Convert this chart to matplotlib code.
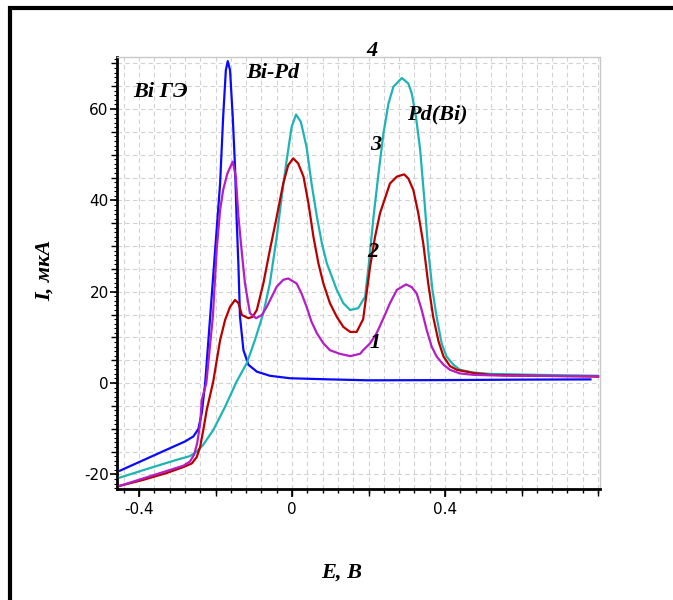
"""Stripping voltammograms on a Bi film electrode with Pd (curves 1-4)."""

import matplotlib
matplotlib.use("Agg")
import matplotlib.pyplot as plt
from matplotlib.lines import Line2D
from matplotlib.ticker import MultipleLocator, FixedLocator

# Bi film electrode (blue)
bi_x = [-0.45, -0.397, -0.328, -0.28, -0.258, -0.245, -0.236, -0.227, -0.214,
        -0.201, -0.188, -0.18, -0.173, -0.168, -0.162, -0.155, -0.149, -0.145,
        -0.14, -0.136, -0.127, -0.114, -0.092, -0.058, -0.005, 0.1, 0.2, 0.4,
        0.6, 0.78]
bi_y = [-19.2, -17.2, -14.6, -12.8, -11.7, -10.1, -6.6, 0.0, 14.5,
        29.1, 43.7, 58.3, 68.5, 70.5, 68.5, 58.3, 47.4, 36.4,
        25.5, 14.5, 7.2, 4.0, 2.5, 1.6, 1.05, 0.8, 0.6, 0.65,
        0.75, 0.8]

# curve 1 (magenta)
c1_x = [-0.45, -0.284, -0.267, -0.256, -0.248, -0.24, -0.236, -0.224, -0.207,
        -0.197, -0.188, -0.18, -0.169, -0.155, -0.147, -0.14, -0.131, -0.123,
        -0.11, -0.094, -0.079, -0.066, -0.04, -0.023, -0.01, 0.012, 0.025,
        0.038, 0.051, 0.065, 0.082, 0.099, 0.125, 0.152, 0.178, 0.186, 0.204,
        0.221, 0.239, 0.256, 0.274, 0.298, 0.313, 0.326, 0.339, 0.352, 0.365,
        0.378, 0.396, 0.413, 0.439, 0.474, 0.561, 0.8]
c1_y = [-22.5, -18.1, -17.2, -15.7, -13.2, -8.8, -3.7, 0.0, 14.5,
        29.1, 37.9, 42.3, 45.9, 48.5, 45.2, 36.4, 28.4, 21.8,
        15.3, 14.2, 14.9, 16.7, 21.1, 22.6, 22.9, 21.8, 19.6,
        16.7, 13.4, 10.9, 8.7, 7.2, 6.4, 5.9, 6.4, 7.2, 8.7,
        10.9, 14.2, 17.5, 20.4, 21.6, 21.0, 19.6, 16.0, 11.6, 8.0,
        5.8, 4.0, 2.9, 2.1, 1.8, 1.6, 1.5]

# curve 2 (dark red)
c2_x = [-0.45, -0.389, -0.328, -0.284, -0.262, -0.249, -0.24, -0.232, -0.223,
        -0.206, -0.188, -0.175, -0.162, -0.149, -0.14, -0.131, -0.114, -0.103,
        -0.092, -0.075, -0.058, -0.04, -0.023, -0.01, 0.003, 0.016, 0.03,
        0.043, 0.056, 0.069, 0.082, 0.099, 0.117, 0.134, 0.152, 0.169, 0.186,
        0.204, 0.217, 0.23, 0.256, 0.274, 0.293, 0.304, 0.317, 0.33, 0.343,
        0.356, 0.369, 0.383, 0.396, 0.413, 0.431, 0.474, 0.518, 0.64, 0.8]
c2_y = [-22.5, -21.2, -19.7, -18.4, -17.6, -16.2, -13.9, -10.3, -5.9,
        0.3, 9.4, 13.8, 16.7, 18.2, 17.5, 14.9, 14.2, 14.5,
        16.0, 21.8, 29.1, 36.4, 43.7, 47.7, 49.2, 48.1, 45.2,
        39.3, 32.0, 26.2, 21.8, 17.5, 14.5, 12.3, 11.2, 11.2, 14.0,
        25.5, 32.0, 37.2, 43.7, 45.2, 45.7, 44.8, 42.3, 37.2, 30.6,
        21.8, 14.5, 9.1, 5.8, 3.7, 2.9, 2.2, 1.8, 1.6, 1.4]

# curve 3 (teal)
c3_x = [-0.45, -0.371, -0.301, -0.267, -0.249, -0.232, -0.206, -0.175, -0.145,
        -0.118, -0.097, -0.075, -0.058, -0.04, -0.027, -0.014, -0.001, 0.0105,
        0.023, 0.038, 0.051, 0.065, 0.078, 0.091, 0.117, 0.134, 0.152, 0.173,
        0.191, 0.2, 0.213, 0.226, 0.239, 0.252, 0.265, 0.287, 0.304, 0.313,
        0.324, 0.335, 0.346, 0.356, 0.367, 0.378, 0.391, 0.404, 0.422, 0.439,
        0.474, 0.518, 0.64, 0.8]
c3_y = [-20.7, -18.6, -16.8, -16.0, -15.0, -13.5, -10.3, -5.2, 0.3,
        4.4, 9.4, 15.3, 21.8, 32.0, 40.8, 48.8, 56.1, 58.8,
        57.2, 51.7, 43.7, 36.4, 30.6, 26.2, 20.4, 17.5, 16.0, 16.4,
        18.9, 25.5, 36.4, 45.9, 54.7, 61.2, 64.9, 66.8, 65.6, 63.4,
        58.3, 51.0, 40.1, 29.1, 20.4, 14.5, 8.7, 5.8, 4.0, 2.9,
        2.3, 2.0, 1.8, 1.6]

curves = [
    (bi_x, bi_y, "#0a0aff"),
    (c3_x, c3_y, "#1fb4b4"),
    (c2_x, c2_y, "#b80000"),
    (c1_x, c1_y, "#b41ec4"),
]

SERIF_BI = dict(family="Liberation Serif", fontweight="bold", fontstyle="italic")


def main():
    plt.rcParams["font.family"] = ["DejaVu Sans"]
    plt.rcParams["axes.unicode_minus"] = False
    fig = plt.figure(figsize=(6.73, 6.0), dpi=100)
    ax = fig.add_axes([117 / 673, 1 - 489 / 600, 483 / 673, 432 / 600])

    for xs, ys, color in curves:
        ax.plot(xs, ys, color=color, linewidth=1.6, zorder=3)

    ax.set_xlim(-0.4575, 0.805)
    ax.set_ylim(-23.2, 71.4)

    ax.xaxis.set_major_locator(FixedLocator([-0.4, 0.0, 0.4]))
    ax.xaxis.set_minor_locator(MultipleLocator(0.04))
    ax.yaxis.set_major_locator(MultipleLocator(20))
    ax.yaxis.set_minor_locator(MultipleLocator(5))
    ax.set_xticklabels(["-0.4", "0", "0.4"])

    grid_style = dict(color="#d2d2d2", linestyle=(0, (4, 3)), linewidth=0.8)
    ax.grid(True, which="both", **grid_style)
    ax.set_axisbelow(True)

    ax.tick_params(axis="both", which="major", labelsize=11, direction="out",
                   color="black", width=1.2)
    ax.tick_params(axis="x", which="major", length=6, pad=3)
    ax.tick_params(axis="y", which="major", length=5, pad=1)
    ax.tick_params(axis="x", which="minor", length=3, width=1)
    ax.tick_params(axis="y", which="minor", length=4, width=1)

    # extra tick rows: 0.2 steps on x, 1 mkA steps on y
    sec_x = ax.secondary_xaxis("bottom")
    sec_x.xaxis.set_major_locator(MultipleLocator(0.2))
    sec_x.tick_params(length=5, width=1, labelbottom=False)
    sec_x.spines["bottom"].set_visible(False)
    sec_y = ax.secondary_yaxis("left")
    sec_y.yaxis.set_major_locator(MultipleLocator(1))
    sec_y.tick_params(length=2, width=0.8, labelleft=False)
    sec_y.spines["left"].set_visible(False)

    for side in ("left", "bottom"):
        ax.spines[side].set_linewidth(2.0)
        ax.spines[side].set_color("black")
    for side in ("top", "right"):
        ax.spines[side].set_linewidth(1.0)
        ax.spines[side].set_color("#c8c8c8")

    ax.text(-0.345, 63.7, "Bi ГЭ", fontsize=16, ha="center", va="center", **SERIF_BI)
    ax.text(-0.05, 67.9, "Bi-Pd", fontsize=16, ha="center", va="center", **SERIF_BI)
    ax.text(0.379, 58.9, "Pd(Bi)", fontsize=16, ha="center", va="center", **SERIF_BI)
    ax.text(0.209, 72.7, "4", fontsize=16, ha="center", va="center", clip_on=False, **SERIF_BI)
    ax.text(0.22, 52.1, "3", fontsize=16, ha="center", va="center", **SERIF_BI)
    ax.text(0.212, 28.7, "2", fontsize=16, ha="center", va="center", **SERIF_BI)
    ax.text(0.217, 8.8, "1", fontsize=16, ha="center", va="center", **SERIF_BI)

    fig.text(45 / 673, 1 - 270 / 600, "I, мкА", rotation=90, fontsize=16,
             ha="center", va="center", **SERIF_BI)
    fig.text(342 / 673, 1 - 573 / 600, "E, В", fontsize=16,
             ha="center", va="center", **SERIF_BI)

    # black frame on the top and left edge of the picture
    fig.add_artist(Line2D([8 / 673, 1.0], [1 - 8 / 600, 1 - 8 / 600],
                          transform=fig.transFigure, color="black", linewidth=3,
                          solid_capstyle="butt"))
    fig.add_artist(Line2D([10 / 673, 10 / 673], [1 - 6 / 600, 0.0],
                          transform=fig.transFigure, color="black", linewidth=3,
                          solid_capstyle="butt"))

    fig.savefig("out.png", dpi=100)
    plt.close(fig)


if __name__ == "__main__":
    main()
